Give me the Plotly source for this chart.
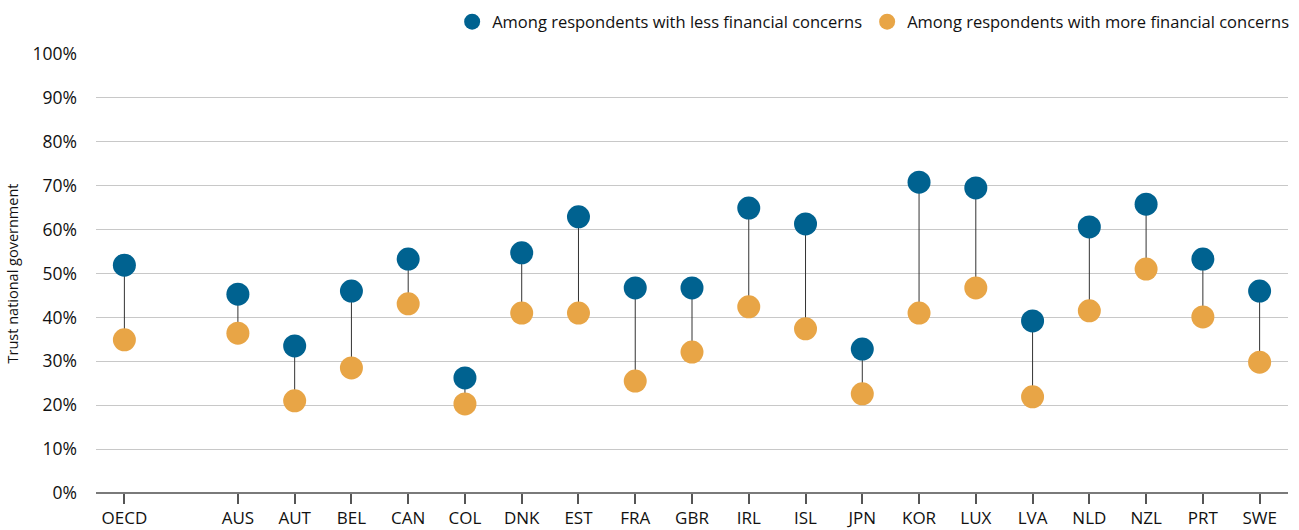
import plotly.graph_objects as go

countries = ["OECD", "AUS", "AUT", "BEL", "CAN", "COL", "DNK", "EST", "FRA", "GBR",
             "IRL", "ISL", "JPN", "KOR", "LUX", "LVA", "NLD", "NZL", "PRT", "SWE"]
less_concerns = [51.9, 45.3, 33.5, 46.0, 53.3, 26.2, 54.7, 62.9, 46.7, 46.7,
                 64.9, 61.3, 32.8, 70.8, 69.5, 39.2, 60.6, 65.8, 53.3, 46.0]
more_concerns = [34.9, 36.4, 21.0, 28.5, 43.1, 20.3, 41.0, 41.0, 25.5, 32.1,
                 42.4, 37.4, 22.6, 41.0, 46.7, 21.9, 41.5, 51.0, 40.1, 29.8]
y_ticks = [0, 10, 20, 30, 40, 50, 60, 70, 80, 90, 100]
y_tick_text = [f"{v}%" for v in y_ticks]

BLUE = "#006290"
ORANGE = "#E8A546"
FONT = "Open Sans"

# OECD stands apart, one empty slot before the countries
xpos = [0] + [i + 2 for i in range(len(countries) - 1)]

# connector lines
lx, ly = [], []
for x, a, b in zip(xpos, less_concerns, more_concerns):
    lx += [x, x, None]
    ly += [a, b, None]

fig = go.Figure()
fig.add_trace(go.Scatter(x=lx, y=ly, mode="lines", line=dict(color="#333333", width=1),
                         showlegend=False, hoverinfo="skip"))
fig.add_trace(go.Scatter(x=xpos, y=less_concerns, mode="markers",
                         name="Among respondents with less financial concerns",
                         marker=dict(color=BLUE, size=23)))
fig.add_trace(go.Scatter(x=xpos, y=more_concerns, mode="markers",
                         name="Among respondents with more financial concerns",
                         marker=dict(color=ORANGE, size=23)))

fig.update_layout(
    width=1299, height=530,
    margin=dict(l=96, r=11, t=54, b=37, autoexpand=False),
    plot_bgcolor="white", paper_bgcolor="white",
    font=dict(family=FONT, size=15, color="#111111"),
    legend=dict(orientation="h", x=1.006, xanchor="right", y=1.073, yanchor="middle",
                font=dict(size=16.5), itemsizing="trace", traceorder="normal"),
    xaxis=dict(range=[-0.5, 20.5], tickmode="array", tickvals=xpos, ticktext=countries,
               showgrid=False, zeroline=False, showline=False, automargin=False,
               ticks="outside", ticklen=10, tickcolor="#555555", tickwidth=1.5,
               tickfont=dict(size=17)),
    yaxis=dict(range=[0, 100], tickmode="array", tickvals=y_ticks, ticktext=y_tick_text,
               showgrid=True, gridcolor="#c8c8c8", gridwidth=1, automargin=False,
               zeroline=True, zerolinecolor="#7a7a7a", zerolinewidth=1.5,
               ticklabelstandoff=18, tickfont=dict(size=17.5),
               title=dict(text="Trust national government", font=dict(size=14.5), standoff=10)),
)

# page has a default 8px body margin; drop it so the figure sits at the corner
fig.write_html("out.html", config={"displayModeBar": False},
               post_script="document.body.style.margin='0';")
